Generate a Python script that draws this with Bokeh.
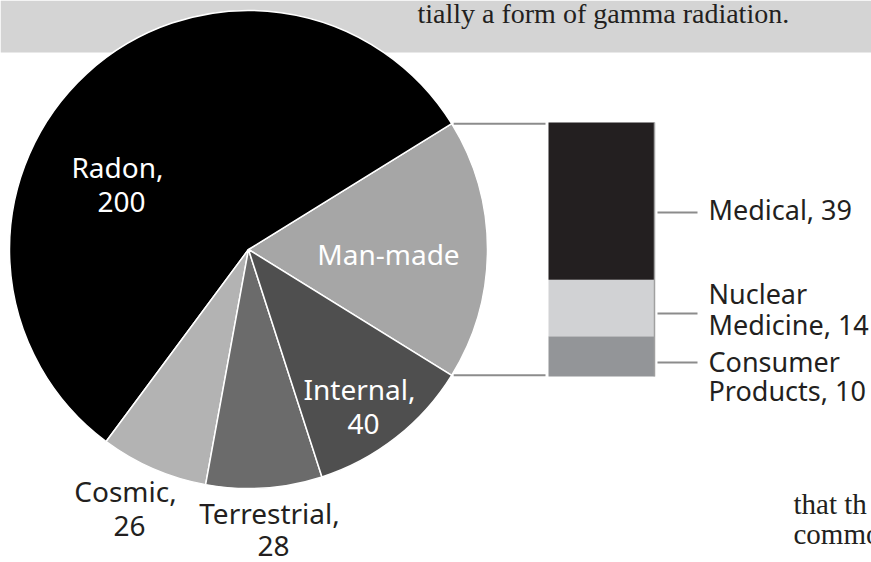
import math
from bokeh.plotting import figure
from bokeh.models import Range1d, ColumnDataSource
from bokeh.core.properties import value
from bokeh.embed import file_html
from bokeh.resources import INLINE

# ---------------- data ----------------
bar_names = ["Consumer Products", "Nuclear Medicine", "Medical"]
bar_values = [10, 14, 39]
bar_colors = ["#939598", "#d1d2d4", "#231f20"]

pie_names = ["Man-made", "Radon", "Cosmic", "Terrestrial", "Internal"]
pie_values = [sum(bar_values), 200, 26, 28, 40]
pie_colors = ["#a6a6a6", "#000000", "#b3b3b3", "#6b6b6b", "#4f4f4f"]

top_text = "tially a form of gamma radiation."
side_text = ["that th", "commo"]

# ---------------- layout (reference pixel coords) ----------------
W, H = 871, 562
FIX = 9  # baseline compensation for text rendering


def ry(y):
    return H - y


def ty(y):
    return H - (y - FIX)


CX, CY, R = 248, 249, 239
BAR_L, BAR_R, BAR_TOP, BAR_BOT = 548, 654, 122, 376

p = figure(width=W, height=H, x_range=Range1d(0, W), y_range=Range1d(0, H),
           output_backend="svg", toolbar_location=None, min_border=0)
p.axis.visible = False
p.grid.visible = False
p.outline_line_color = None
p.background_fill_color = "white"
p.border_fill_color = "white"

BODY_FONT = value("Liberation Serif")

# top grey band
p.quad(left=[0], right=[W], top=[ry(0)], bottom=[ry(52)], fill_color="#d4d4d4", line_color=None)
p.text(x=[417], y=[ty(22)], text=[top_text], text_font=BODY_FONT,
       text_font_size="28px", text_color="#231f20", text_baseline="alphabetic")

# ---------------- pie ----------------
total = sum(pie_values)
fr = [v / total for v in pie_values]
starts, ends = [], []
a = -fr[0] * math.pi
for f in fr:
    starts.append(a)
    a += f * 2 * math.pi
    ends.append(a)

pie_src = ColumnDataSource(dict(start=starts, end=ends, color=pie_colors, name=pie_names))
p.wedge(x=CX, y=ry(CY), radius=R, start_angle="start", end_angle="end", fill_color="color",
        line_color="white", line_width=1.5, source=pie_src)

# connector lines from pie (man-made wedge edges) to the bar
half = fr[0] * math.pi
x_edge = CX + R * math.cos(half) + 2
y_up = ry(CY) + R * math.sin(half)
y_dn = ry(CY) - R * math.sin(half)
p.segment(x0=[x_edge, x_edge], y0=[y_up, y_dn], x1=[BAR_L - 3, BAR_L - 3], y1=[y_up, y_dn],
          line_color="#8c8c8c", line_width=2)

# ---------------- bar (own value scale) ----------------
btot = sum(bar_values)
px_per = (BAR_BOT - BAR_TOP) / btot
lo = (ry(H) - ry(BAR_BOT)) / px_per
hi = (ry(0) - ry(BAR_BOT)) / px_per
p.extra_y_ranges = {"bar": Range1d(lo, hi)}
bottoms, tops = [], []
c = 0
for v in bar_values:
    bottoms.append(c)
    c += v
    tops.append(c)
p.vbar(x=(BAR_L + BAR_R) / 2, width=BAR_R - BAR_L, bottom=bottoms, top=tops,
       fill_color=bar_colors, line_color=None, y_range_name="bar")
p.segment(x0=[BAR_R], y0=[0], x1=[BAR_R], y1=[btot], line_color="#a0a0a0", line_width=1.5,
          y_range_name="bar")

# ---------------- labels ----------------
LFONT = value("Noto Sans")
# pie labels: (x-centre, first baseline, line gap, colour)
pie_label_pos = {
    "Radon": (117, 175, 35, "white"),
    "Man-made": (388, 262, 35, "white"),
    "Internal": (359, 397, 35, "white"),
    "Cosmic": (125, 499, 35, "#231f20"),
    "Terrestrial": (269, 521, 33, "#231f20"),
}
lx, ly, lt, lc = [], [], [], []
for name, v in zip(pie_names, pie_values):
    x, y, gap, col = pie_label_pos[name]
    lines = [name] if name == "Man-made" else [name + ",", str(v)]
    for i, t in enumerate(lines):
        lx.append(x + (4 if i else 0))
        ly.append(ty(y + i * gap))
        lt.append(t)
        lc.append(col)
p.text(x=lx, y=ly, text=lt, text_color=lc, text_font=LFONT, text_font_size="28px",
       text_align="center", text_baseline="alphabetic")

# bar labels
bar_label_pos = {
    "Medical": (212, [218]),
    "Nuclear Medicine": (313, [302, 333]),
    "Consumer Products": (362, [370, 399]),
}
bx, by, bt = [], [], []
sx0, sx1, sy = [], [], []
for name, v in zip(bar_names, bar_values):
    line_y, bases = bar_label_pos[name]
    sx0.append(BAR_R + 3)
    sx1.append(BAR_R + 43)
    sy.append(ry(line_y))
    if len(bases) == 1:
        lines = [f"{name}, {v}"]
    else:
        w = name.split(" ")
        lines = [w[0], f"{w[1]}, {v}"]
    for t, b in zip(lines, bases):
        bx.append(708)
        by.append(ty(b))
        bt.append(t)
p.segment(x0=sx0, y0=sy, x1=sx1, y1=sy, line_color="#8c8c8c", line_width=2)
p.text(x=bx, y=by, text=bt, text_color="#231f20", text_font=LFONT, text_font_size="27px",
       text_align="left", text_baseline="alphabetic")

# body text fragment at the bottom right
p.text(x=[793] * len(side_text), y=[ty(512 + 30 * i) for i in range(len(side_text))], text=side_text,
       text_font=BODY_FONT, text_font_size="29px", text_color="#231f20",
       text_baseline="alphabetic")

open("out.html", "w").write(file_html(p, INLINE))
